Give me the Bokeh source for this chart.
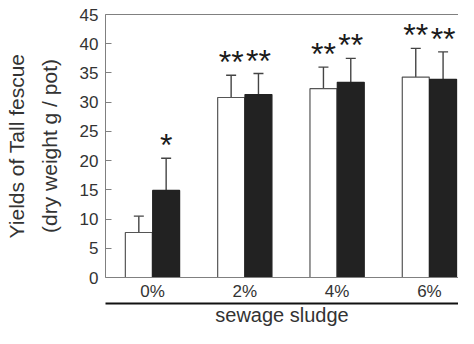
from bokeh.plotting import figure
from bokeh.models import Range1d, LinearAxis, FixedTicker, ColumnDataSource, Whisker, TeeHead
from bokeh.core.properties import value
from bokeh.embed import file_html
from bokeh.resources import INLINE

# ---- data ----
categories = ["0%", "2%", "4%", "6%"]
control = [7.7, 30.8, 32.3, 34.3]          # white bars
control_err = [2.8, 3.8, 3.7, 4.9]
treated = [14.9, 31.3, 33.4, 33.9]         # black bars
treated_err = [5.5, 3.6, 4.1, 4.7]
control_sig = ["", "**", "**", "**"]
treated_sig = ["*", "**", "**", "**"]
y_ticks = [0, 5, 10, 15, 20, 25, 30, 35, 40, 45]

FONT = "Liberation Sans"
TXT = "#333333"
AX = "#808080"
OFF = 0.148
BW = 0.292

pos = list(range(1, len(categories) + 1))
src = ColumnDataSource(dict(
    cx=[g - OFF for g in pos], tx=[g + OFF for g in pos],
    c=control, t=treated,
    c_hi=[v + e for v, e in zip(control, control_err)],
    t_hi=[v + e for v, e in zip(treated, treated_err)],
    c_sig=control_sig, t_sig=treated_sig,
))

p = figure(width=458, height=328, x_range=Range1d(0.491, 4.315), y_range=Range1d(0, 45),
           output_backend="svg", toolbar_location=None,
           min_border_left=105, min_border_right=0, min_border_top=14, min_border_bottom=46)
p.outline_line_color = None
p.xgrid.visible = False
p.ygrid.visible = False
p.background_fill_color = "white"
p.border_fill_color = "white"

# bars
p.vbar(x="cx", width=BW, bottom=0, top="c", source=src,
       fill_color="white", line_color="#555555", line_width=1.2)
p.vbar(x="tx", width=BW, bottom=0, top="t", source=src,
       fill_color="#222222", line_color="#222222", line_width=1.2)

# error bars (upper only)
for base, lo, hi in (("cx", "c", "c_hi"), ("tx", "t", "t_hi")):
    w = Whisker(source=src, base=base, lower=lo, upper=hi, dimension="height",
                line_color="#444444", line_width=1.4,
                upper_head=TeeHead(size=10, line_color="#444444", line_width=1.4),
                lower_head=None)
    p.add_layout(w)

# significance stars
for xcol, ycol, scol in (("cx", "c_hi", "c_sig"), ("tx", "t_hi", "t_sig")):
    p.text(x=xcol, y=ycol, text=scol, source=src, text_font=value(FONT),
           text_font_size="32px", text_align="center", text_baseline="alphabetic",
           y_offset=-13, text_color="#1a1a1a")

# left axis
ya = p.yaxis[0]
ya.ticker = FixedTicker(ticks=y_ticks)
ya.axis_line_color = AX
ya.major_tick_line_color = AX
ya.major_tick_in = 6
ya.major_tick_out = 0
ya.minor_tick_line_color = None
ya.major_label_standoff = 7
ya.major_label_text_font = FONT
ya.major_label_text_font_size = "17px"
ya.major_label_text_color = TXT
ya.axis_label = "Yields of Tall fescue\n(dry weight g / pot)"
ya.axis_label_text_font = FONT
ya.axis_label_text_font_size = "21px"
ya.axis_label_text_font_style = "normal"
ya.axis_label_text_color = TXT
ya.axis_label_text_line_height = 1.4
ya.axis_label_standoff = 16

# bottom axis with category labels
xa = p.xaxis[0]
xa.ticker = FixedTicker(ticks=pos)
xa.major_label_overrides = {g: c for g, c in zip(pos, categories)}
xa.axis_line_color = AX
xa.major_tick_line_color = None
xa.major_tick_in = 0
xa.major_tick_out = 0
xa.minor_tick_line_color = None
xa.major_label_standoff = 4
xa.major_label_text_font = FONT
xa.major_label_text_font_size = "17px"
xa.major_label_text_color = TXT
xa.major_label_text_line_height = 0.9

# underline + "sewage sludge"
xa2 = LinearAxis(ticker=FixedTicker(ticks=[]), axis_line_color="#111111", axis_line_width=2,
                 major_tick_in=0, major_tick_out=0, major_label_standoff=0,
                 minor_tick_line_color=None, axis_label="sewage sludge",
                 axis_label_text_font=FONT, axis_label_text_font_size="20px",
                 axis_label_text_font_style="normal", axis_label_text_color=TXT,
                 axis_label_text_line_height=0.9, axis_label_standoff=0)
p.add_layout(xa2, "below")

# top frame line
ta = LinearAxis(ticker=FixedTicker(ticks=[]), axis_line_color=AX,
                major_tick_in=0, major_tick_out=0, major_label_standoff=0,
                minor_tick_line_color=None)
p.add_layout(ta, "above")

open("out.html", "w").write(file_html(p, INLINE))
